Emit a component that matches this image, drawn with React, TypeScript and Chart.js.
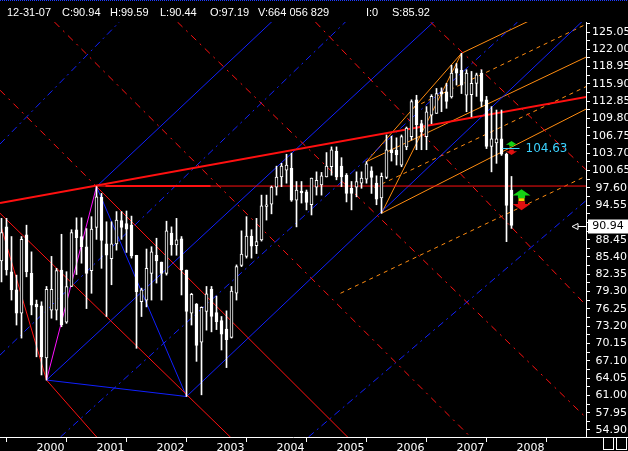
import { useEffect, useRef } from "react";
import { Chart, registerables } from "chart.js";

Chart.register(...registerables);

// months since Jan 2000 (Jun 1999 .. Dec 2007)
const months: number[] = [];
for (let m = -7; m <= 95; m++) months.push(m);

const opens = [
  84.7, 90.7, 82.8, 79.6, 75.5, 89.3, 82.5,
  77.1, 76.8, 67.6, 76.0, 76.0, 83.1, 73.9, 80.2, 90.2, 89.0, 87.2, 83.0,
  90.6, 95.9, 87.7, 85.1, 87.7, 91.8, 91.3, 91.0, 85.7, 77.5, 77.8, 82.5,
  85.7, 84.5, 82.5, 89.6, 87.5, 88.6, 83.1, 75.5, 77.1, 70.4, 75.8, 79.7,
  75.6, 74.2, 72.7, 71.2, 79.0, 83.9, 85.5, 89.1, 87.4, 88.4, 94.3, 94.7,
  97.7, 99.5, 100.7, 101.0, 95.4, 97.0, 96.9, 94.6, 97.7, 98.1, 99.5, 101.3,
  104.0, 101.4, 99.8, 97.5, 97.7, 98.4, 99.1, 100.6, 98.4, 95.8, 99.4, 104.3,
  104.2, 101.6, 104.8, 106.6, 113.1, 108.9, 106.6, 110.4, 110.7, 114.5, 114.5, 113.6,
  118.6, 118.3, 113.9, 114.0, 116.0, 117.8, 113.1, 104.9, 105.5, 106.2, 103.5, 97.19,
];
const highs = [
  92.2, 92.2, 89.0, 82.2, 89.0, 91.0, 86.3,
  77.8, 77.5, 80.2, 85.5, 83.4, 89.4, 82.8, 90.2, 92.3, 92.3, 90.4, 92.5,
  97.8, 96.6, 91.6, 91.6, 93.4, 93.4, 93.5, 92.6, 85.7, 79.9, 86.8, 87.2,
  88.7, 84.5, 91.7, 90.7, 92.2, 89.0, 83.1, 79.0, 77.2, 76.6, 80.2, 80.2,
  78.5, 74.9, 75.9, 80.2, 84.0, 90.0, 92.5, 90.2, 92.2, 96.3, 96.3, 97.9,
  101.4, 101.9, 103.5, 103.7, 98.7, 98.7, 97.2, 99.3, 100.4, 100.3, 103.8, 104.8,
  104.8, 102.9, 100.1, 98.7, 100.4, 100.4, 102.2, 101.3, 99.7, 100.2, 106.9, 106.7,
  106.4, 106.9, 108.3, 113.1, 113.9, 109.5, 111.9, 114.0, 115.1, 115.2, 116.0, 119.2,
  119.5, 121.3, 118.4, 118.1, 117.8, 118.4, 113.7, 111.9, 111.3, 111.3, 103.7, 99.59,
];
const lows = [
  81.0, 82.2, 77.8, 73.4, 71.1, 81.9, 75.2,
  67.8, 64.6, 63.7, 74.6, 74.3, 73.1, 73.7, 80.2, 82.3, 84.3, 76.3, 79.0,
  88.5, 83.4, 74.9, 80.5, 86.6, 88.5, 86.2, 85.2, 69.3, 74.9, 76.6, 77.8,
  80.8, 77.8, 82.2, 85.7, 85.7, 78.7, 60.8, 73.4, 67.0, 61.1, 72.5, 72.2,
  72.6, 69.0, 65.9, 71.1, 77.8, 83.7, 85.2, 85.2, 86.0, 88.2, 91.9, 93.0,
  96.3, 97.8, 98.4, 95.2, 90.7, 94.9, 93.7, 92.8, 96.3, 96.3, 99.5, 99.8,
  99.0, 97.8, 95.1, 93.7, 96.0, 97.5, 98.4, 96.6, 94.6, 93.1, 99.2, 102.3,
  101.6, 101.3, 104.3, 106.0, 104.3, 104.3, 104.3, 108.9, 110.7, 111.0, 111.6, 113.4,
  115.7, 114.2, 111.0, 110.1, 113.7, 111.9, 104.5, 100.4, 101.9, 103.3, 88.1, 90.44,
];
const closes = [
  89.7, 83.1, 79.6, 75.5, 88.5, 82.8, 76.9,
  76.6, 67.8, 79.7, 79.7, 83.0, 73.4, 80.2, 89.7, 88.8, 87.2, 82.5, 90.3,
  96.0, 88.3, 85.7, 87.7, 91.9, 90.6, 90.3, 85.6, 79.3, 79.6, 83.4, 86.3,
  84.7, 82.5, 90.0, 87.5, 88.4, 83.1, 75.8, 78.8, 69.8, 76.5, 78.9, 74.9,
  74.0, 71.8, 70.8, 79.4, 83.7, 85.9, 89.1, 87.3, 88.1, 94.4, 94.6, 97.7,
  99.5, 101.4, 101.6, 95.4, 97.2, 96.7, 95.0, 99.3, 98.9, 99.7, 101.4, 104.3,
  99.5, 99.5, 96.6, 96.6, 98.7, 99.3, 101.8, 99.4, 95.6, 99.6, 104.3, 103.8,
  103.4, 106.6, 108.1, 112.8, 108.7, 107.5, 111.0, 113.7, 114.2, 114.1, 112.8, 117.8,
  117.8, 115.7, 117.8, 116.0, 117.5, 112.8, 104.9, 106.2, 106.2, 103.5, 94.5, 90.94,
];

const yMajorTicks = [
  54.9, 57.95, 61.0, 64.05, 67.1, 70.15, 73.2, 76.25, 79.3, 82.35, 85.4, 88.45,
  91.5, 94.55, 97.6, 100.65, 103.7, 106.75, 109.8, 112.85, 115.9, 118.95, 122.0, 125.05,
];
const hiddenTick = 91.5; // covered by the last-price box
const yearTickMonths = [0, 12, 24, 36, 48, 60, 72, 84, 96];
const yearLabels = ["2000", "2001", "2002", "2003", "2004", "2005", "2006", "2007", "2008"];

const headerItems = ["12-31-07", "C:90.94", "H:99.59", "L:90.44", "O:97.19", "V:664 056 829", "I:0", "S:85.92"];
const markerPrice = 104.63;
const markerMonth = 95;
const signalMonth = 97;
const signalPrice = 95.4;

// trend lines: [month1, price1, month2, price2]
const redThickLines = [
  [-7.3, 94.9, 110, 113.6],
  [13.8, 97.9, 34.8, 97.9],
];
const redLines = [
  [12, 97.9, 110, 97.9],
  [12, 97.8, 64, 52.1],
  [-8, 93.7, 40, 52.6],
  [2, 63.7, 14, 51.7],
  [-7, 90.5, 2, 63.7],
];
const redDashLines = [
  [3.6, 126.8, 86.8, 53.67],
  [28.2, 126.8, 110, 57.0],
  [55.8, 126.8, 110, 76.8],
  [78.8, 126.8, 110, 100.7],
  [-7.3, 114.8, 12, 97.8],
];
const magentaLines = [[2, 63.7, 12, 97.8]];
const blueLines = [
  [12, 97.8, 30, 60.8],
  [2, 63.7, 30, 60.8],
  [30, 60.8, 112, 129.3],
  [2, 63.7, 80, 127.3],
  [12, 97.8, 50, 129.3],
];
const blueDashLines = [
  [-7.3, 68.1, 62, 127.0],
  [-7.3, 105.3, 17, 127.2],
  [4.8, 53.67, 96.2, 126.8],
  [54.4, 53.67, 110, 95.4],
];
const orangeLines = [
  [69, 93.1, 85, 121.3],
  [66, 102.2, 85, 121.3],
  [69, 93.1, 112, 112.4],
  [66, 102.2, 112, 121.5],
  [85, 121.3, 112, 132.7],
];
const orangeDashLines = [
  [67.6, 97.65, 112, 116.3],
  [75.5, 111.8, 112, 127.3],
  [60.8, 79.0, 110, 99.7],
];

const FONT = "'DejaVu Sans', sans-serif";

function lineSets(list: number[][], color: string, width: number, dash: number[]) {
  return list.map((l) => ({
    type: "line" as const,
    data: [
      { x: l[0], y: l[1] },
      { x: l[2], y: l[3] },
    ],
    borderColor: color,
    borderWidth: width,
    borderDash: dash,
    pointRadius: 0,
    fill: false,
    order: 10,
  }));
}

export default function App() {
  const ref = useRef<HTMLCanvasElement | null>(null);

  useEffect(() => {
    if (!ref.current) return;
    document.body.style.margin = "0";
    document.body.style.background = "#000";

    const yTicks: number[] = [];
    yMajorTicks.forEach((v) => {
      yTicks.push(v);
      yTicks.push(v + 1.525);
    });
    const majorSet = new Set(yMajorTicks.filter((v) => v !== hiddenTick).map((v) => v.toFixed(2)));

    const overlay = {
      id: "overlay",
      afterDraw(chart: any) {
        const ctx = chart.ctx as CanvasRenderingContext2D;
        const ys = chart.scales.y;
        const xs = chart.scales.x;
        const area = chart.chartArea;
        ctx.save();
        ctx.strokeStyle = "#1f3cff";
        ctx.lineWidth = 1;
        ctx.setLineDash([1, 1]);
        ctx.beginPath();
        ctx.moveTo(0, 0.5);
        ctx.lineTo(628, 0.5);
        ctx.stroke();
        ctx.setLineDash([]);
        ctx.fillStyle = "#fff";
        ctx.font = "11px 'Liberation Sans', Arial, sans-serif";
        ctx.textBaseline = "alphabetic";
        const hx = [7, 62, 110, 160, 210, 258, 366, 392];
        headerItems.forEach((t, i) => ctx.fillText(t, hx[i], 16));

        // bottom rule continues under the price axis
        ctx.strokeStyle = "#fff";
        ctx.beginPath();
        ctx.moveTo(area.right, Math.round(area.bottom) + 0.5);
        ctx.lineTo(628, Math.round(area.bottom) + 0.5);
        ctx.stroke();

        const last = closes[closes.length - 1];
        const py = Math.round(ys.getPixelForValue(last)) + 0.5;
        ctx.fillStyle = "#fff";
        ctx.fillRect(588, py - 7, 40, 14);
        ctx.fillStyle = "#000";
        ctx.font = "11px " + FONT;
        ctx.textAlign = "center";
        ctx.textBaseline = "middle";
        ctx.fillText(last.toFixed(2), 608, py);
        ctx.strokeStyle = "#fff";
        ctx.beginPath();
        ctx.moveTo(572, py);
        ctx.lineTo(578, py - 3);
        ctx.lineTo(578, py + 3);
        ctx.closePath();
        ctx.moveTo(578, py);
        ctx.lineTo(586, py);
        ctx.stroke();

        const mx = xs.getPixelForValue(markerMonth);
        const my = Math.round(ys.getPixelForValue(markerPrice)) + 0.5;
        ctx.strokeStyle = "#3cd2ff";
        ctx.beginPath();
        ctx.moveTo(mx - 9, my);
        ctx.lineTo(mx + 8, my);
        ctx.stroke();
        ctx.fillStyle = "#3cd2ff";
        ctx.textAlign = "left";
        ctx.font = "12px " + FONT;
        ctx.fillText(markerPrice.toFixed(2), mx + 14, my);
        const arrow = (x: number, y: number, up: boolean, color: string, s: number) => {
          ctx.fillStyle = color;
          ctx.beginPath();
          const d = up ? -1 : 1;
          ctx.moveTo(x, y + d * 2 * s);
          ctx.lineTo(x - 2 * s, y + d * 0.6 * s);
          ctx.lineTo(x - 0.8 * s, y + d * 0.6 * s);
          ctx.lineTo(x - 0.8 * s, y);
          ctx.lineTo(x + 0.8 * s, y);
          ctx.lineTo(x + 0.8 * s, y + d * 0.6 * s);
          ctx.lineTo(x + 2 * s, y + d * 0.6 * s);
          ctx.closePath();
          ctx.fill();
        };
        arrow(mx, my - 2, true, "#14d214", 2.8);
        arrow(mx, my + 1, false, "#e01010", 2.8);
        const sx = xs.getPixelForValue(signalMonth);
        const sy = ys.getPixelForValue(signalPrice);
        arrow(sx, sy - 2, true, "#14d214", 4.5);
        ctx.fillStyle = "#f0e000";
        ctx.fillRect(sx - 3, sy - 2, 6, 3);
        arrow(sx, sy + 1, false, "#e01010", 4.5);

        ctx.strokeStyle = "#fff";
        ctx.strokeRect(603.5, 437.5, 10, 12);
        ctx.strokeRect(616.5, 437.5, 10, 12);
        ctx.restore();
      },
    };

    const bodyColors = months.map((_, i) => (closes[i] >= opens[i] ? "#000" : "#fff"));

    const chart = new Chart(ref.current, {
      type: "bar",
      data: {
        datasets: [
          {
            type: "bar",
            data: months.map((m, i) => ({ x: m, y: [opens[i], closes[i]] })) as any,
            backgroundColor: bodyColors,
            borderColor: "#fff",
            borderWidth: 1,
            borderSkipped: false,
            barThickness: 3,
            grouped: false,
            order: 0,
          } as any,
          {
            type: "bar",
            data: months.map((m, i) => ({ x: m, y: [lows[i], highs[i]] })) as any,
            backgroundColor: "#fff",
            borderWidth: 0,
            barThickness: 1,
            grouped: false,
            order: 1,
          } as any,
          ...lineSets(redThickLines, "#ff1010", 2, []),
          ...lineSets(redLines, "#ff1010", 1, []),
          ...lineSets(redDashLines, "#ff1010", 1, [7, 5, 2, 5]),
          ...lineSets(magentaLines, "#ff10ff", 1, []),
          ...lineSets(blueLines, "#1020ff", 1, []),
          ...lineSets(blueDashLines, "#1020ff", 1, [7, 4, 2, 4]),
          ...lineSets(orangeLines, "#ff8c10", 1, []),
          ...lineSets(orangeDashLines, "#ff8c10", 1, [4, 4]),
        ] as any,
      },
      options: {
        responsive: false,
        devicePixelRatio: 1,
        animation: false,
        layout: { padding: { top: 22, left: 0, right: 0, bottom: 0 } },
        plugins: { legend: { display: false }, tooltip: { enabled: false } },
        scales: {
          x: {
            type: "linear",
            min: -7.3,
            max: 109.9,
            offset: false,
            afterBuildTicks: (s: any) => {
              s.ticks = yearTickMonths.map((v) => ({ value: v }));
            },
            afterFit: (s: any) => {
              s.height = 14;
            },
            ticks: {
              autoSkip: false,
              maxRotation: 0,
              align: "start",
              padding: 0,
              color: "#fff",
              font: { family: FONT, size: 11 },
              callback: (v: any) => yearLabels[yearTickMonths.indexOf(Number(v))] ?? "",
            },
            grid: { display: true, drawOnChartArea: false, drawTicks: true, tickLength: 5, color: "#fff" },
            border: { display: true, color: "#fff" },
          },
          y: {
            type: "linear",
            position: "right",
            min: 53.666,
            max: 126.813,
            afterBuildTicks: (s: any) => {
              s.ticks = yTicks.map((v) => ({ value: v }));
            },
            afterFit: (s: any) => {
              s.width = 42;
            },
            ticks: {
              autoSkip: false,
              padding: 2,
              crossAlign: "center",
              color: "#fff",
              font: { family: FONT, size: 11 },
              callback: (v: any) => {
                const k = Number(v).toFixed(2);
                return majorSet.has(k) ? k : "";
              },
            },
            grid: { display: true, drawOnChartArea: false, drawTicks: true, tickLength: 4, color: "#fff" },
            border: { display: true, color: "#fff" },
          },
        },
      } as any,
      plugins: [overlay],
    });
    return () => chart.destroy();
  }, []);

  return (
    <div style={{ position: "absolute", left: 0, top: 0, width: 628, height: 451, overflow: "hidden", background: "#000" }}>
      <canvas ref={ref} width={628} height={451} style={{ display: "block", background: "#000" }} />
    </div>
  );
}
